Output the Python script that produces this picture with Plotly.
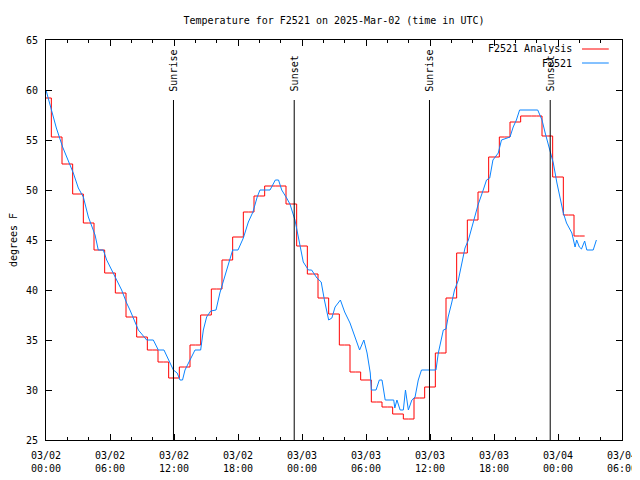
import pandas as pd
import plotly.graph_objects as go

# ---------------- data ----------------
base_time = "2025-03-02 00:00"

# Analysis (hourly values, hours since base)
analysis_hours = list(range(0, 51))
analysis_temp = [59.2, 55.3, 52.6, 49.6, 46.7, 44.0, 41.7, 39.7, 37.3, 35.3,
                 34.0, 32.8, 31.2, 32.3, 34.5, 37.5, 40.1, 43.0, 45.3, 47.8,
                 49.4, 50.4, 50.4, 48.6, 44.4, 41.6, 39.2, 37.6, 34.5, 31.8,
                 31.0, 28.8, 28.3, 27.6, 27.1, 29.2, 30.3, 33.7, 39.2, 43.7,
                 47.0, 49.8, 53.3, 55.3, 56.8, 57.4, 57.4, 55.4, 51.3, 47.5,
                 45.4]
analysis_end_hour = 50.5

# Observations (hours since base, deg F)
obs_hours = [0.0, 0.53, 0.97, 1.56, 2.09, 2.56, 3.03, 3.5, 3.97, 4.6,
             4.9, 5.37, 5.69, 6.6, 7.09, 7.56, 7.87, 8.66, 9.44, 10.06,
             10.53, 11.06, 11.47, 11.94, 12.3, 12.56, 12.8, 13.03, 13.5, 13.97,
             14.5, 14.75, 15.06, 15.44, 15.94, 16.3, 16.8, 17.2, 17.5, 18.0,
             18.5, 18.97, 19.4, 19.8, 20.06, 21.0, 21.5, 21.8, 22.1, 22.56,
             22.87, 23.34, 23.81, 24.12, 24.6, 24.9, 25.4, 25.8, 26.1, 26.5,
             26.8, 27.1, 27.6, 28.0, 28.5, 28.97, 29.4, 29.8, 30.1, 30.4,
             30.5, 30.94, 31.25, 31.5, 31.8, 32.6, 32.7, 32.9, 33.2, 33.5,
             33.7, 33.97, 34.3, 34.6, 34.9, 35.2, 36.56, 36.78, 37.1, 37.25,
             37.5, 37.7, 38.03, 38.3, 38.66, 38.97, 39.28, 39.6, 40.06, 40.5,
             40.99, 41.3, 41.6, 41.9, 42.4, 42.7, 43.5, 43.8, 44.1, 44.4,
             46.1, 46.5, 46.8, 47.25, 47.56, 47.9, 48.2, 48.5, 48.8, 49.3,
             49.6, 49.75, 50.0, 50.2, 50.5, 50.7, 51.3, 51.6]
obs_temp = [60, 58, 56.2, 54.3, 53, 51.7, 50.2, 49.3, 47.3, 45.5,
            44, 44, 43, 41, 40, 38.7, 38, 36, 35, 35,
            34, 34, 33, 32, 31.7, 31, 31, 32, 33, 34,
            34, 36, 37.3, 37.9, 38, 39.7, 41.5, 42.8, 44, 44,
            45.2, 46.8, 47.8, 49.3, 50, 50, 51, 51, 50, 49.2,
            48.6, 47, 44.3, 42.8, 42, 42, 41.2, 40.8, 39, 37,
            37.2, 38.3, 39, 37.8, 36.7, 35.2, 34, 35, 33.7, 31.7,
            30, 30, 31, 31, 29, 29, 28.2, 29, 28, 28,
            30, 28, 29, 29.3, 31, 32, 32, 33.7, 35.2, 36,
            36.1, 37.3, 38.7, 40, 41, 42.7, 44.2, 45, 46.7, 48.5,
            50, 51, 51.2, 53, 53.7, 55, 55.3, 56.3, 57, 58,
            58, 57, 55.7, 54, 52.7, 50.7, 49, 47.7, 46.7, 45.7,
            44.3, 45, 44.3, 44.1, 44.9, 44, 44, 45]

sun_hours = [11.95, 23.27, 35.95, 47.27]
sun_labels = ["Sunrise", "Sunset", "Sunrise", "Sunset"]

series_names = ["F2521 Analysis", "F2521"]
series_colors = ["#ff0000", "#0a84ff"]

x_range_hours = [0, 54]
y_range = [25, 65]
title_text = "Temperature for F2521 on 2025-Mar-02 (time in UTC)"
y_title = "degrees F"

# ---------------- build ----------------
t0 = pd.Timestamp(base_time)
to_time = lambda hs: [t0 + pd.Timedelta(hours=h) for h in hs]

FONT = "DejaVu Sans Mono, monospace"

# the page body adds an 8px offset; the figure is sized to fit the window
W, H = 632, 472

fig = go.Figure()
fig.add_trace(go.Scatter(
    x=to_time(analysis_hours + [analysis_end_hour]),
    y=analysis_temp + [analysis_temp[-1]],
    mode="lines", line=dict(color=series_colors[0], width=1, shape="hvh"),
    name=series_names[0], showlegend=False))
fig.add_trace(go.Scatter(
    x=to_time(obs_hours), y=obs_temp,
    mode="lines", line=dict(color=series_colors[1], width=1),
    name=series_names[1], showlegend=False))

line_top = 0.85
for h, lab in zip(sun_hours, sun_labels):
    ts = t0 + pd.Timedelta(hours=h)
    fig.add_shape(type="line", xref="x", yref="paper", x0=ts, x1=ts,
                  y0=0, y1=line_top, line=dict(color="black", width=1))
    fig.add_annotation(x=ts, xref="x", y=0.867, yref="paper",
                       text=lab, textangle=-90, showarrow=False,
                       xanchor="center", yanchor="bottom",
                       font=dict(family=FONT, size=10, color="black"))

# gnuplot-style legend (text then sample line)
leg_y = [0.9775, 0.9425]
for name, col, yy in zip(series_names, series_colors, leg_y):
    fig.add_annotation(x=0.917, xref="paper", y=yy, yref="paper",
                       text=name, showarrow=False, xanchor="right",
                       yanchor="middle",
                       font=dict(family=FONT, size=10, color="black"))
    fig.add_shape(type="line", xref="paper", yref="paper",
                  x0=0.9306, x1=0.977, y0=yy, y1=yy,
                  line=dict(color=col, width=1))

fig.update_layout(
    width=W, height=H,
    margin=dict(l=38, r=18, t=32, b=40, autoexpand=False),
    paper_bgcolor="white", plot_bgcolor="white",
    font=dict(family=FONT, size=10, color="black"),
    title=dict(text=title_text, x=(38 + 288) / W, xanchor="center",
               y=1 - 12 / H, yanchor="middle",
               font=dict(family=FONT, size=10, color="black")),
    showlegend=False,
)
fig.update_xaxes(
    range=to_time(x_range_hours), automargin=False,
    tickformat="%m/%d<br>%H:%M", dtick=6 * 3600 * 1000,
    tick0=t0, ticklabeloverflow="allow",
    ticks="inside", ticklen=6, tickcolor="black",
    minor=dict(dtick=2 * 3600 * 1000, ticks="inside", ticklen=3,
               tickcolor="black"),
    showline=True, linecolor="black", linewidth=1, mirror="ticks",
    showgrid=False, zeroline=False,
    tickfont=dict(family=FONT, size=10), ticklabelstandoff=6,
)
fig.update_yaxes(
    range=y_range, dtick=5, tick0=25, automargin=False,
    ticks="inside", ticklen=6, tickcolor="black",
    showline=True, linecolor="black", linewidth=1, mirror="ticks",
    showgrid=False, zeroline=False,
    tickfont=dict(family=FONT, size=10), ticklabelstandoff=5,
    title=dict(text=y_title, font=dict(family=FONT, size=10), standoff=10),
)

fig.write_html("out.html")
